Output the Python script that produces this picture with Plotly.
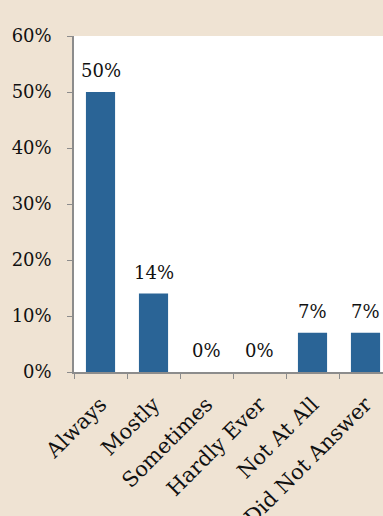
import plotly.graph_objects as go

categories = ["Always", "Mostly", "Sometimes", "Hardly Ever", "Not At All", "Did Not Answer"]
values = [0.50, 0.14, 0.0, 0.0, 0.07, 0.07]
labels = ["50%", "14%", "0%", "0%", "7%", "7%"]

font_family = "DejaVu Serif"
fs = 18
fig = go.Figure(go.Bar(
    x=categories, y=values,
    marker=dict(color="#2A6496", line=dict(width=0)),
    width=0.55,
))
for c, v, t in zip(categories, values, labels):
    fig.add_annotation(x=c, y=v, text=t, showarrow=False, yanchor="bottom",
                       yshift=9, font=dict(family=font_family, size=fs, color="#111"))
fig.update_layout(
    width=383, height=516,
    margin=dict(l=74, r=0, t=36, b=144),
    paper_bgcolor="#EFE3D3", plot_bgcolor="#FFFFFF",
    font=dict(family=font_family, size=fs, color="#111"),
    showlegend=False,
)
fig.update_xaxes(
    range=[-0.5, 5.33], tickangle=-45, showline=True, linecolor="#8C8C8C", linewidth=1.5,
    ticks="outside", tickson="boundaries", ticklen=5, tickcolor="#8C8C8C",
    showgrid=False, tickfont=dict(family=font_family, size=21), ticklabelstandoff=10,
    automargin=False,
)
fig.update_yaxes(
    range=[0, 0.6], dtick=0.1, tickformat=".0%", showline=True, linecolor="#8C8C8C", linewidth=1.5,
    ticks="outside", ticklen=5, tickcolor="#8C8C8C", showgrid=False, zeroline=False,
    tickfont=dict(family=font_family, size=fs), ticklabelstandoff=12, automargin=False,
)
fig.write_html("out.html")
